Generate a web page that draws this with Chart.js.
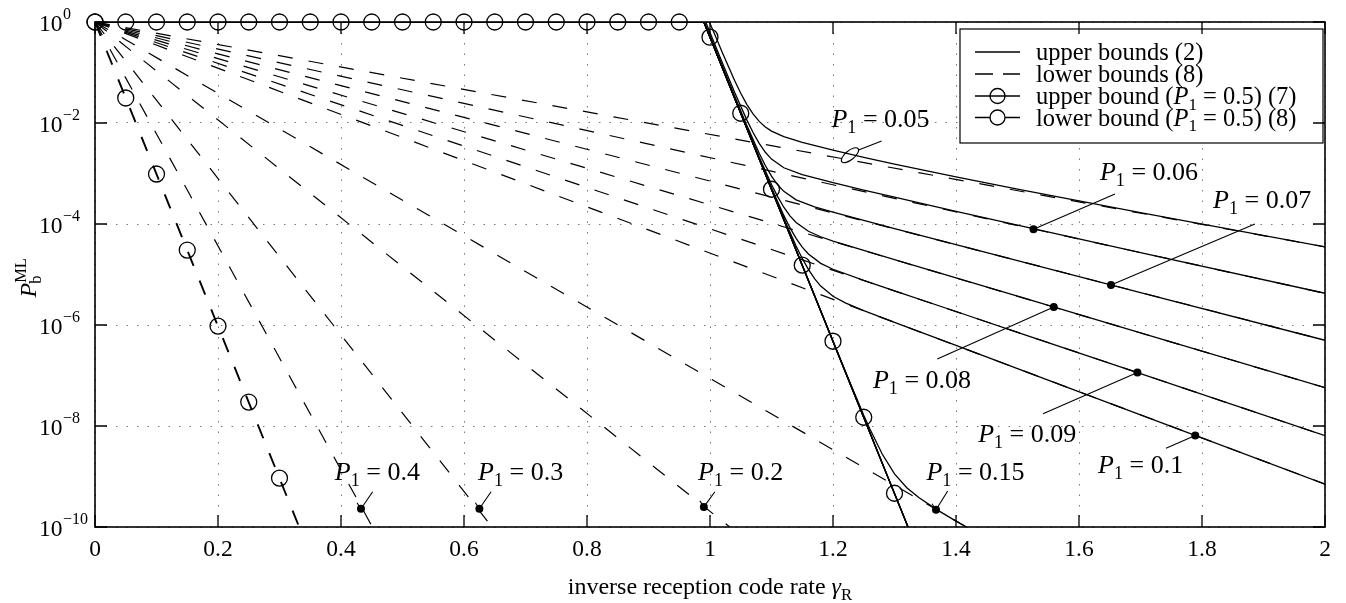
<!DOCTYPE html>
<html>
<head>
<meta charset="utf-8">
<script src="https://cdn.jsdelivr.net/npm/chart.js@4"></script>
<style>
  html, body { margin: 0; padding: 0; background: #fff; }
</style>
</head>
<body>
<canvas id="c" width="1346" height="603"></canvas>
<script>
const SERIF = '"Liberation Serif", "Times New Roman", serif';

// axes
const xTicks = [0, 0.2, 0.4, 0.6, 0.8, 1, 1.2, 1.4, 1.6, 1.8, 2];
const xTickLabels = ["0", "0.2", "0.4", "0.6", "0.8", "1", "1.2", "1.4", "1.6", "1.8", "2"];
const yTicks = [1, 1e-2, 1e-4, 1e-6, 1e-8, 1e-10];

// lower bounds (8): straight on the log axis, start/end point per P1
const lowerP1 = ["0.05", "0.06", "0.07", "0.08", "0.09", "0.1", "0.15", "0.2", "0.3", "0.4", "0.5"];
const lowerEndX = [2, 2, 2, 2, 2, 2, 1.417, 1.032, 0.6455, 0.451, 0.332];
const lowerEndY = [3.52e-5, 4.24e-6, 5.0e-7, 5.73e-8, 6.43e-9, 7.06e-10, 1e-10, 1e-10, 1e-10, 1e-10, 1e-10];

// upper bounds (2)
const ub05X = [0, 0.999, 1.01, 1.02, 1.04, 1.05, 1.06, 1.07, 1.08, 1.09, 1.1, 1.12, 1.15, 1.2, 1.25, 1.3, 1.4, 1.5, 1.7, 2];
const ub05Y = [1, 1, 0.49, 0.25, 0.0695, 0.0389, 0.0232, 0.0151, 0.01076, 8.34e-3, 6.92e-3, 5.36e-3, 4.14e-3, 2.90e-3, 2.09e-3, 1.53e-3, 8.53e-4, 4.89e-4, 1.675e-4, 3.53e-5];
const ub06X = [0, 0.993, 1, 1.02, 1.04, 1.06, 1.07, 1.08, 1.09, 1.1, 1.12, 1.15, 1.2, 1.25, 1.3, 1.4, 1.5, 1.7, 2];
const ub06Y = [1, 1, 0.618, 0.156, 0.0405, 0.0114, 6.48e-3, 3.94e-3, 2.63e-3, 1.93e-3, 1.30e-3, 9.47e-4, 6.58e-4, 4.71e-4, 3.39e-4, 1.78e-4, 9.47e-5, 2.72e-5, 4.25e-6];
const ub07X = [0, 0.99, 1, 1.02, 1.04, 1.06, 1.08, 1.09, 1.1, 1.11, 1.12, 1.14, 1.17, 1.2, 1.25, 1.3, 1.4, 1.5, 1.7, 2];
const ub07Y = [1, 1, 0.538, 0.135, 0.0341, 8.87e-3, 2.52e-3, 1.44e-3, 8.88e-4, 5.98e-4, 4.43e-4, 3.0e-4, 2.18e-4, 1.71e-4, 1.18e-4, 8.12e-5, 3.90e-5, 1.88e-5, 4.39e-6, 4.98e-7];
const ub08X = [0, 0.99, 1, 1.02, 1.04, 1.06, 1.08, 1.1, 1.11, 1.12, 1.13, 1.14, 1.16, 1.18, 1.2, 1.25, 1.3, 1.4, 1.5, 1.7, 2];
const ub08Y = [1, 1, 0.512, 0.128, 0.0322, 8.15e-3, 2.13e-3, 6.06e-4, 3.48e-4, 2.15e-4, 1.45e-4, 1.07e-4, 7.17e-5, 5.59e-5, 4.56e-5, 3.0e-5, 1.97e-5, 8.53e-6, 3.71e-6, 6.98e-7, 5.73e-8];
const ub09X = [0, 0.99, 1, 1.04, 1.06, 1.08, 1.1, 1.12, 1.13, 1.14, 1.15, 1.16, 1.18, 1.2, 1.25, 1.3, 1.4, 1.5, 1.7, 2];
const ub09Y = [1, 1, 0.5, 0.0313, 7.86e-3, 1.99e-3, 5.2e-4, 1.48e-4, 8.46e-5, 5.21e-5, 3.48e-5, 2.55e-5, 1.66e-5, 1.27e-5, 7.62e-6, 4.74e-6, 1.85e-6, 7.18e-7, 1.09e-7, 6.43e-9];
const ub10X = [0, 0.99, 1, 1.04, 1.08, 1.1, 1.12, 1.14, 1.15, 1.16, 1.17, 1.18, 1.2, 1.22, 1.25, 1.3, 1.4, 1.5, 1.7, 2];
const ub10Y = [1, 1, 0.5, 0.0313, 1.97e-3, 4.98e-4, 1.30e-4, 3.66e-5, 2.08e-5, 1.26e-5, 8.25e-6, 5.9e-6, 3.71e-6, 2.74e-6, 1.92e-6, 1.13e-6, 3.93e-7, 1.37e-7, 1.66e-8, 7.06e-10];
const ub15X = [0, 0.99, 1, 1.2, 1.22, 1.25, 1.26, 1.28, 1.3, 1.32, 1.34, 1.37, 1.4, 1.417];
const ub15Y = [1, 1, 0.5, 4.8e-7, 1.22e-7, 1.64e-8, 8.74e-9, 2.79e-9, 1.13e-9, 6.0e-10, 3.78e-10, 2.16e-10, 1.31e-10, 1.0e-10];
// P1 = 0.2 ... 0.5 share the same steep upper bound
const ubSteepX = [0, 0.99, 1.322];
const ubSteepY = [1, 1, 1e-10];

// P1 = 0.5 markers
const upMarkX = [0, 0.05, 0.1, 0.15, 0.2, 0.25, 0.3, 0.35, 0.4, 0.45, 0.5, 0.55, 0.6, 0.65, 0.7, 0.75, 0.8, 0.85, 0.9, 0.95, 1, 1.05, 1.1, 1.15, 1.2, 1.25, 1.3];
const upMarkY = [1, 1, 1, 1, 1, 1, 1, 1, 1, 1, 1, 1, 1, 1, 1, 1, 1, 1, 1, 1, 0.5, 1.56e-2, 4.88e-4, 1.53e-5, 4.77e-7, 1.49e-8, 4.66e-10];
const lowMarkX = [0, 0.05, 0.1, 0.15, 0.2, 0.25, 0.3];
const lowMarkY = [1, 3.13e-2, 9.77e-4, 3.05e-5, 9.5e-7, 2.98e-8, 9.3e-10];

// callouts "P1 = ..."
const noteText = ["0.05", "0.06", "0.07", "0.08", "0.09", "0.1", "0.15", "0.2", "0.3", "0.4"];
const noteDotX = [1.2276, 1.526, 1.652, 1.559, 1.695, 1.789, 1.3675, 0.99, 0.625, 0.4325];
const noteDotY = [2.3e-3, 7.9e-5, 6.2e-6, 2.26e-6, 1.15e-7, 6.5e-9, 2.2e-10, 2.5e-10, 2.3e-10, 2.3e-10];
const noteEndX = [1.279, 1.6585, 1.886, 1.3696, 1.5415, 1.7415, 1.3865, 1.008, 0.644, 0.4515];
const noteEndY = [4.4e-3, 3.93e-4, 1e-4, 2.12e-7, 1.74e-8, 3.63e-9, 5.16e-10, 5.0e-10, 5.0e-10, 5.0e-10];
const noteTextX = [1.1975, 1.634, 1.818, 1.265, 1.436, 1.631, 1.352, 0.9805, 0.6228, 0.390];
const noteTextY = [8.5e-3, 7.4e-4, 2.09e-4, 5.6e-8, 4.9e-9, 1.19e-9, 8.5e-10, 8.5e-10, 8.5e-10, 8.5e-10];

const legendRows = [
  [["upper bounds (2)", "rm"]],
  [["lower bounds (8)", "rm"]],
  [["upper bound (", "rm"], ["P", "it"], ["1", "sub"], [" = 0.5) (7)", "rm"]],
  [["lower bound (", "rm"], ["P", "it"], ["1", "sub"], [" = 0.5) (8)", "rm"]]
];

function pts(xs, ys) { return xs.map((v, i) => ({ x: v, y: ys[i] })); }

function fontFor(kind, size) {
  if (kind === "it") return "italic " + size + "px " + SERIF;
  if (kind === "sub" || kind === "sup") return (size * 0.7).toFixed(1) + "px " + SERIF;
  return size + "px " + SERIF;
}

function richWidth(ctx, parts, size) {
  let w = 0;
  parts.forEach(([t, kind]) => { ctx.font = fontFor(kind, size); w += ctx.measureText(t).width; });
  return w;
}

function drawRich(ctx, parts, x, y, size) {
  let cx = x;
  parts.forEach(([t, kind]) => {
    ctx.font = fontFor(kind, size);
    let dy = 0;
    if (kind === "sub") dy = size * 0.24;
    if (kind === "sup") dy = -size * 0.42;
    ctx.fillText(t, cx, y + dy);
    cx += ctx.measureText(t).width;
  });
  return cx - x;
}

const datasets = [];
const upperSets = [[ub05X, ub05Y], [ub06X, ub06Y], [ub07X, ub07Y], [ub08X, ub08Y], [ub09X, ub09Y], [ub10X, ub10Y], [ub15X, ub15Y],
  [ubSteepX, ubSteepY], [ubSteepX, ubSteepY], [ubSteepX, ubSteepY], [ubSteepX, ubSteepY]];
upperSets.forEach(([xs, ys]) => {
  datasets.push({
    data: pts(xs, ys), borderColor: "#000", borderWidth: 1.3, pointRadius: 0, fill: false
  });
});
lowerP1.forEach((p, i) => {
  datasets.push({
    data: pts([0, lowerEndX[i]], [1, lowerEndY[i]]), borderColor: "#000",
    borderWidth: p === "0.5" ? 1.9 : 1.2, borderDash: [15, 16], pointRadius: 0, fill: false
  });
});
[[upMarkX, upMarkY], [lowMarkX, lowMarkY]].forEach(([xs, ys]) => {
  datasets.push({
    data: pts(xs, ys), showLine: false, pointRadius: 8, pointBorderWidth: 1.3,
    pointBorderColor: "#000", pointBackgroundColor: "rgba(0,0,0,0)", clip: false
  });
});

const decor = {
  id: "decor",
  afterDatasetsDraw(chart) {
    const { ctx, chartArea: a, scales: { x, y } } = chart;
    ctx.save();
    ctx.fillStyle = "#000";
    ctx.strokeStyle = "#000";

    // callouts
    noteText.forEach((t, i) => {
      const dx = x.getPixelForValue(noteDotX[i]), dy = y.getPixelForValue(noteDotY[i]);
      const ex = x.getPixelForValue(noteEndX[i]), ey = y.getPixelForValue(noteEndY[i]);
      ctx.lineWidth = 1.1;
      ctx.beginPath();
      if (i === 0) {
        ctx.ellipse(dx, dy, 10.5, 4.5, -0.68, 0, Math.PI * 2);
        ctx.stroke();
        ctx.beginPath();
        ctx.moveTo(dx + 8, dy - 5);
      } else {
        ctx.moveTo(dx, dy);
      }
      ctx.lineTo(ex, ey);
      if (noteDotY[i] < 1e-9) { ctx.moveTo(dx, dy); ctx.lineTo(dx - 4, dy - 6); }
      ctx.stroke();
      if (i > 0) { ctx.beginPath(); ctx.arc(dx, dy, 4, 0, Math.PI * 2); ctx.fill(); }
      ctx.textAlign = "left"; ctx.textBaseline = "alphabetic";
      drawRich(ctx, [["P", "it"], ["1", "sub"], [" = " + t, "rm"]],
        x.getPixelForValue(noteTextX[i]), y.getPixelForValue(noteTextY[i]), 26);
    });

    // legend
    const lx = a.right - 365, ly = a.top + 7, lw = 363, lh = 114;
    ctx.fillStyle = "#fff";
    ctx.fillRect(lx, ly, lw, lh);
    ctx.lineWidth = 1.2;
    ctx.strokeRect(lx, ly, lw, lh);
    ctx.fillStyle = "#000";
    const txtY = [31, 53, 75, 96.5];
    legendRows.forEach((parts, i) => {
      const sy = ly + txtY[i] - 8;
      ctx.lineWidth = 1.3;
      ctx.beginPath();
      if (i === 1) {
        ctx.moveTo(lx + 15, sy); ctx.lineTo(lx + 33, sy);
        ctx.moveTo(lx + 43, sy); ctx.lineTo(lx + 60, sy);
      } else {
        ctx.moveTo(lx + 15, sy); ctx.lineTo(lx + 60, sy);
      }
      ctx.stroke();
      if (i >= 2) {
        ctx.beginPath();
        ctx.arc(lx + 37.5, sy, 7.5, 0, Math.PI * 2);
        if (i === 3) { ctx.fillStyle = "#fff"; ctx.fill(); ctx.fillStyle = "#000"; }
        ctx.stroke();
      }
      ctx.textAlign = "left";
      drawRich(ctx, parts, lx + 76, ly + txtY[i], 24.5);
    });

    // frame and inward ticks
    ctx.lineWidth = 1.6;
    ctx.strokeRect(a.left, a.top, a.right - a.left, a.bottom - a.top);
    ctx.lineWidth = 1.3;
    ctx.beginPath();
    x.ticks.forEach(t => {
      const px = x.getPixelForValue(t.value);
      ctx.moveTo(px, a.bottom); ctx.lineTo(px, a.bottom - 12);
      ctx.moveTo(px, a.top); ctx.lineTo(px, a.top + 12);
    });
    y.ticks.forEach(t => {
      const py = y.getPixelForValue(t.value);
      ctx.moveTo(a.left, py); ctx.lineTo(a.left + 12, py);
      ctx.moveTo(a.right, py); ctx.lineTo(a.right - 12, py);
    });
    ctx.stroke();

    // tick labels
    ctx.fillStyle = "#000";
    ctx.textAlign = "center";
    ctx.font = "23.5px " + SERIF;
    x.ticks.forEach((t, i) => {
      ctx.fillText(xTickLabels[i], x.getPixelForValue(t.value), a.bottom + 29);
    });
    ctx.textAlign = "left";
    y.ticks.forEach(t => {
      const py = y.getPixelForValue(t.value);
      const e = Math.round(Math.log10(t.value));
      ctx.font = "23.5px " + SERIF;
      ctx.fillText("10", 39, py + 8.5);
      ctx.font = "16px " + SERIF;
      ctx.fillText(e === 0 ? "0" : "\u2212" + Math.abs(e), 63, py - 3);
    });

    // axis titles
    const xt = [["inverse reception code rate ", "rm"], ["\u03b3", "it"], ["R", "sub"]];
    const xw = richWidth(ctx, xt, 24);
    drawRich(ctx, xt, (a.left + a.right) / 2 - xw / 2, 594, 24);

    ctx.translate(36, (a.top + a.bottom) / 2 + 23);
    ctx.rotate(-Math.PI / 2);
    ctx.font = "italic 24px " + SERIF;
    ctx.fillText("P", 0, 0);
    const pw = ctx.measureText("P").width;
    ctx.font = "16.5px " + SERIF;
    ctx.fillText("b", pw - 1, 5);
    ctx.fillText("ML", pw, -10);
    ctx.restore();
  }
};

new Chart(document.getElementById("c"), {
  type: "line",
  data: { datasets },
  options: {
    responsive: false,
    animation: false,
    layout: { padding: { top: 22, right: 21, left: 0, bottom: 0 } },
    plugins: { legend: { display: false }, tooltip: { enabled: false } },
    elements: { line: { tension: 0 } },
    scales: {
      x: {
        type: "linear", min: 0, max: 2,
        afterBuildTicks: s => { s.ticks = xTicks.map(v => ({ value: v })); },
        afterFit: s => { s.height = 76; },
        ticks: { display: false },
        grid: { color: "#777", lineWidth: 1, drawTicks: false },
        border: { display: false, dash: [1.5, 9] }
      },
      y: {
        type: "logarithmic", min: 1e-10, max: 1,
        afterBuildTicks: s => { s.ticks = yTicks.map(v => ({ value: v })); },
        afterFit: s => { s.width = 95; },
        ticks: { display: false },
        grid: { color: "#777", lineWidth: 1, drawTicks: false },
        border: { display: false, dash: [1.5, 9] }
      }
    }
  },
  plugins: [decor]
});
</script>
</body>
</html>
